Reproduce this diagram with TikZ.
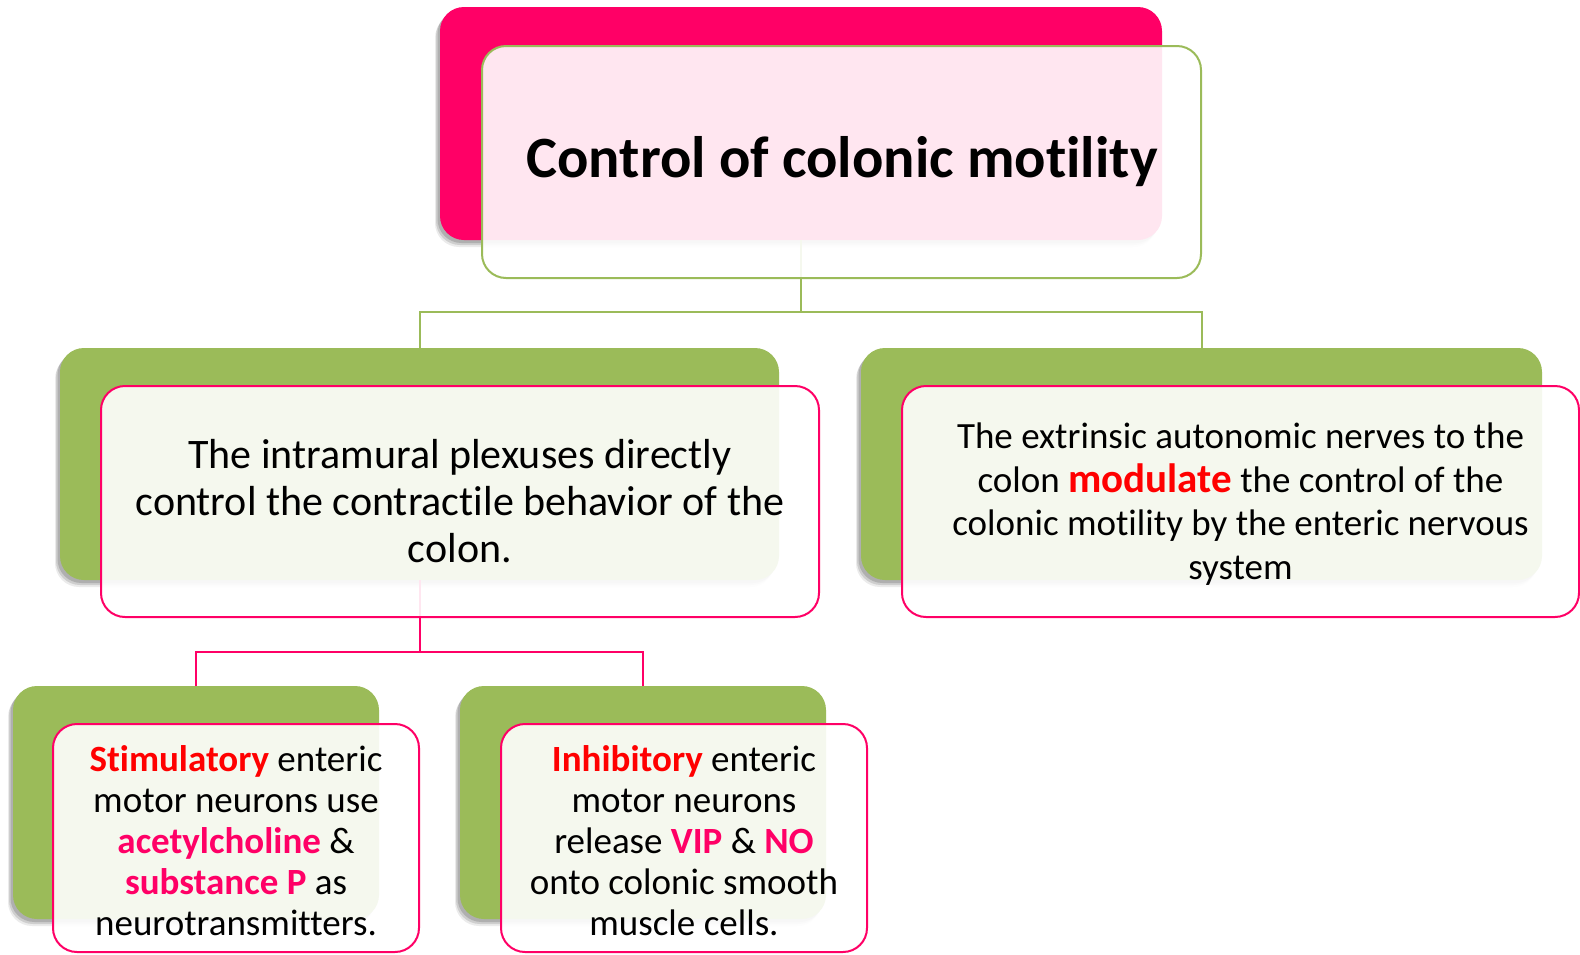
\documentclass[tikz,border=0pt]{standalone}
\usepackage{fontspec}
\setmainfont{Carlito}[Ligatures={NoCommon}]
\usetikzlibrary{shadows}
\definecolor{hotpink}{HTML}{FF0066}
\definecolor{leafgreen}{HTML}{9BBB59}
\definecolor{brightred}{HTML}{FF0000}
\tikzset{
  backbox/.style={rounded corners=24pt, inner sep=0pt, draw=none,
    general shadow={shadow xshift=-5pt, shadow yshift=-7pt, fill=black, opacity=0.08},
    general shadow={shadow xshift=-4pt, shadow yshift=-5pt, fill=black, opacity=0.12},
    general shadow={shadow xshift=-2.5pt, shadow yshift=-3pt, fill=black, opacity=0.15}},
  frontbox/.style={rounded corners=24pt, inner sep=0pt, line width=2pt,
    fill=white, fill opacity=0.9},
  boxtext/.style={inner sep=0pt, align=center},
  conn/.style={line width=2pt},
}
\newcommand{\rb}[1]{\textbf{\textcolor{brightred}{#1}}}
\newcommand{\pb}[1]{\textbf{\textcolor{hotpink}{#1}}}
\begin{document}
\begin{tikzpicture}[x=1pt,y=-1pt]
\useasboundingbox[fill=white] (0,0) rectangle (1580,954);
% coordinates for connector junctions
\coordinate (j1) at (801,312);
\coordinate (j2) at (419.5,652);
% back boxes
\node[backbox, fill=hotpink, minimum width=722pt, minimum height=233pt] (topback) at (801,123.5) {};
\node[backbox, fill=leafgreen, minimum width=719pt, minimum height=232pt] (midLback) at (419.5,464) {};
\node[backbox, fill=leafgreen, minimum width=681pt, minimum height=232pt] (midRback) at (1201.5,464) {};
\node[backbox, fill=leafgreen, minimum width=366pt, minimum height=233pt] (botLback) at (196,802.5) {};
\node[backbox, fill=leafgreen, minimum width=366pt, minimum height=233pt] (botRback) at (643,802.5) {};
% connectors
\draw[conn, leafgreen] (topback.south) -- (j1) -| (midLback.north);
\draw[conn, leafgreen] (j1) -| (midRback.north);
\draw[conn, hotpink] (midLback.south) -- (j2) -| (botLback.north);
\draw[conn, hotpink] (j2) -| (botRback.north);
% front boxes
\node[frontbox, draw=leafgreen, minimum width=719pt, minimum height=232pt] (topfront) at (841.5,162) {};
\node[frontbox, draw=hotpink, minimum width=718pt, minimum height=231pt] (midLfront) at (460,501.5) {};
\node[frontbox, draw=hotpink, minimum width=677pt, minimum height=231pt] (midRfront) at (1240.5,501.5) {};
\node[frontbox, draw=hotpink, minimum width=366pt, minimum height=228pt] (botLfront) at (236,838) {};
\node[frontbox, draw=hotpink, minimum width=366pt, minimum height=228pt] (botRfront) at (684,838) {};
% texts
\node[boxtext, font=\fontsize{58.5}{66}\selectfont\bfseries] (toptext) at (842,162) {Control of colonic motility};
\node[boxtext, font=\fontsize{42}{47}\selectfont] (midLtext) at (460,501.5)
  {The intramural plexuses directly\\control the contractile behavior of the\\colon.};
\node[boxtext, font=\fontsize{37}{43.5}\selectfont] (midRtext) at (1240.5,504)
  {The extrinsic autonomic nerves to the\\colon {\fontsize{41}{43.5}\selectfont\rb{modulate}} the control of the\\colonic motility by the enteric nervous\\system};
\node[boxtext, font=\fontsize{37}{41}\selectfont] (botLtext) at (236,841)
  {\rb{Stimulatory} enteric\\motor neurons use\\\pb{acetylcholine} \&\\\pb{substance P} as\\neurotransmitters.};
\node[boxtext, font=\fontsize{37}{41}\selectfont] (botRtext) at (684,841)
  {\rb{Inhibitory} enteric\\motor neurons\\release \pb{VIP} \& \pb{NO}\\onto colonic smooth\\muscle cells.};
\end{tikzpicture}
\end{document}
